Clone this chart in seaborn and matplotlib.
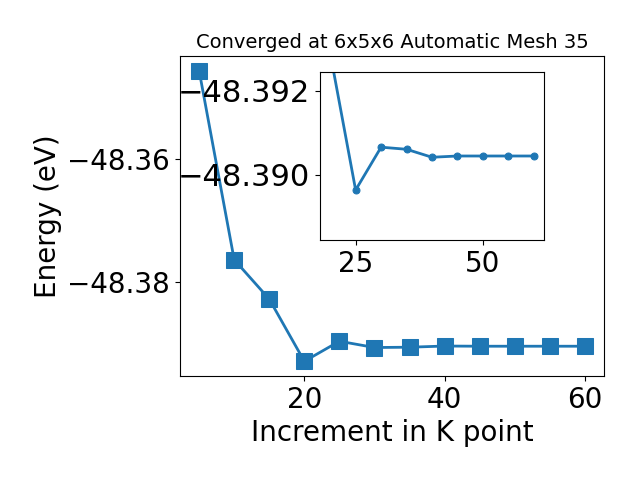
import matplotlib
matplotlib.use('Agg')
import numpy as np
import pandas as pd
import matplotlib.pyplot as plt
import seaborn as sns

# k-point increment vs total energy
kpoints = [5, 10, 15, 20, 25, 30, 35, 40, 45, 50, 55, 60]
energy = [-48.3457, -48.3764, -48.3828, -48.3929, -48.38964, -48.39066,
          -48.39061, -48.39042, -48.39045, -48.39045, -48.39045, -48.39045]

df = pd.DataFrame({'k': kpoints, 'E': energy})
df_zoom = df[df['k'] >= 20]

color = '#1f77b4'

fig = plt.figure(figsize=(6.4, 4.8), dpi=100)
ax = fig.add_axes([0.281, 0.217, 0.663, 0.666])
sns.lineplot(data=df, x='k', y='E', ax=ax, color=color, marker='s',
             markersize=11, mec=color, linewidth=2)
ax.set_xlabel('Increment in K point', fontsize=20)
ax.set_ylabel('Energy (eV)', fontsize=20)
ax.set_title('Converged at 6x5x6 Automatic Mesh 35', fontsize=14)
ax.set_yticks([-48.36, -48.38])
ax.set_xticks([20, 40, 60])
ax.tick_params(labelsize=20)

# zoomed inset
axin = fig.add_axes([0.5, 0.5, 0.35, 0.35])
sns.lineplot(data=df_zoom, x='k', y='E', ax=axin, color=color, marker='o',
             markersize=5, mec=color, linewidth=2)
axin.set_ylim(-48.38845, -48.39245)
axin.set_xticks([25, 50])
axin.set_yticks([-48.392, -48.390])
axin.set_xlabel('')
axin.set_ylabel('')
axin.tick_params(axis='x', labelsize=20)
axin.tick_params(axis='y', labelsize=22)

fig.savefig('out.png', dpi=100)
